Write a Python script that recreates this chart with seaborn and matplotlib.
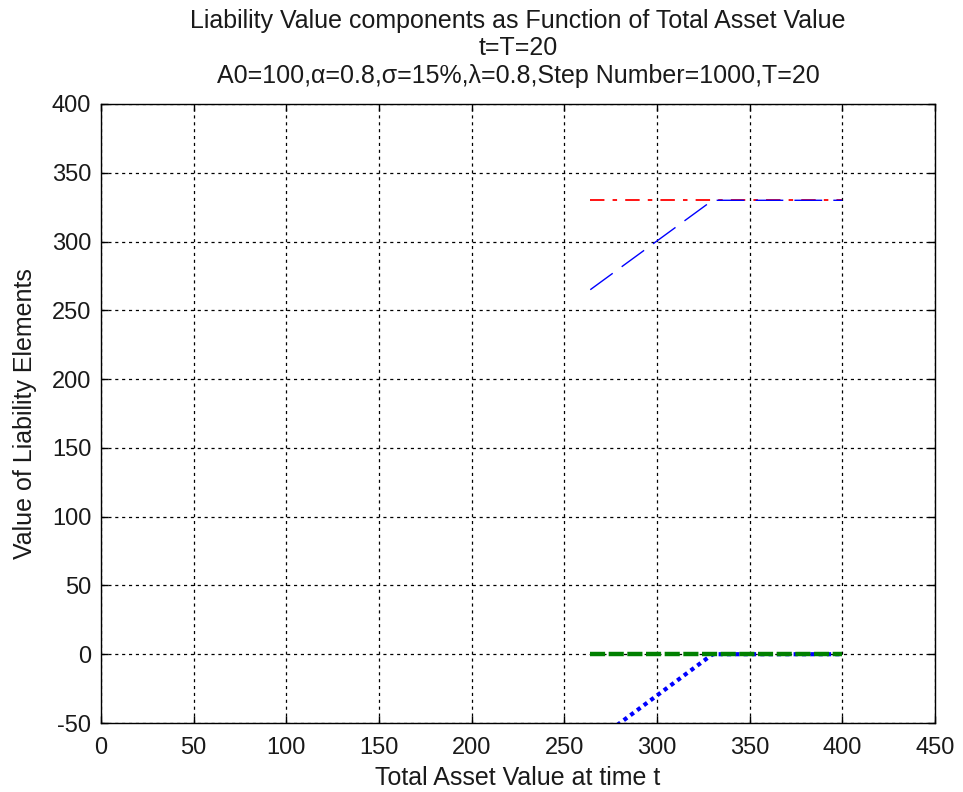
import matplotlib
matplotlib.use("Agg")
import matplotlib.pyplot as plt
import seaborn as sns
import pandas as pd

# Total asset value at t=T and the liability components evaluated there
asset_value = [264, 330, 400]
total_liability_cap = [330, 330, 330]
liability_value = [265, 330, 330]
bonus_component = [0, 0, 0]
default_component = [-66, 0, 0]

x_ticks = [0, 50, 100, 150, 200, 250, 300, 350, 400, 450]
y_ticks = [-50, 0, 50, 100, 150, 200, 250, 300, 350, 400]

sns.set_style("white")
plt.rcParams["font.family"] = ["Liberation Sans", "DejaVu Sans"]
plt.rcParams["axes.unicode_minus"] = False

fig = plt.figure(figsize=(9.63, 7.92), dpi=100)
ax = fig.add_axes([101 / 963, 1 - 723 / 792, (935 - 101) / 963, (723 - 104) / 792])

df = pd.DataFrame({
    "asset": asset_value,
    "cap": total_liability_cap,
    "liab": liability_value,
    "bonus": bonus_component,
    "default": default_component,
})

sns.lineplot(data=df, x="asset", y="cap", ax=ax, color="red", lw=1.3,
             linestyle=(0, (8, 4.5, 2.5, 4.5)))
sns.lineplot(data=df, x="asset", y="liab", ax=ax, color="blue", lw=1.0,
             linestyle=(0, (20, 8)))
sns.lineplot(data=df, x="asset", y="default", ax=ax, color="blue", lw=3.0,
             linestyle=(0, (1, 1)))
sns.lineplot(data=df, x="asset", y="bonus", ax=ax, color="green", lw=3.2,
             linestyle=(0, (3.4, 0.8)))

ax.set_xlim(0, 450)
ax.set_ylim(-50, 400)
ax.set_xticks(x_ticks)
ax.set_yticks(y_ticks)
ax.grid(True, color="black", linestyle=(0, (2.5, 3)), linewidth=0.9)
ax.tick_params(axis="both", direction="in", length=5, width=1, labelsize=17,
               top=True, right=True, bottom=True, left=True, colors="black",
               labelcolor="#1a1a1a")
ax.tick_params(axis="x", pad=10)
ax.tick_params(axis="y", pad=7)
for s in ax.spines.values():
    s.set_color("black")
    s.set_linewidth(1.0)
    s.set_visible(True)

ax.set_xlabel("Total Asset Value at time t", fontsize=18, color="#1a1a1a", labelpad=5)
ax.set_ylabel("Value of Liability Elements", fontsize=18, color="#1a1a1a", labelpad=11)
ax.set_title("Liability Value components as Function of Total Asset Value\n"
             "t=T=20\n"
             "A0=100,\u03b1=0.8,\u03c3=15%,\u03bb=0.8,Step Number=1000,T=20",
             fontsize=18, color="#1a1a1a", linespacing=1.2, pad=15)

fig.savefig("out.png", dpi=100, facecolor="white")
